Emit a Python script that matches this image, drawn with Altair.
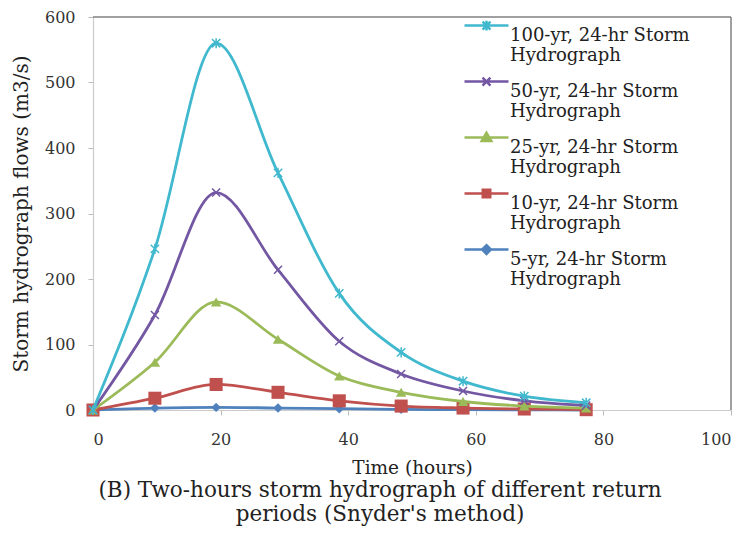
import altair as alt
import pandas as pd

# ---- data ----
time_hours = [0, 9.7, 19.3, 29.0, 38.6, 48.3, 58.0, 67.6, 77.3]
flow_100yr = [0, 246, 560, 362, 178, 88, 44, 21, 11]
flow_50yr = [0, 145, 332, 214, 105, 55, 29, 14, 7]
flow_25yr = [0, 73, 165, 108, 52, 27, 13, 6, 3]
flow_10yr = [0, 18, 39, 27, 14, 6, 3, 1.5, 0.5]
flow_5yr = [0, 3, 4, 3, 2, 1, 0.5, 0.2, 0]

series_names = [
    "100-yr, 24-hr Storm Hydrograph",
    "50-yr, 24-hr Storm Hydrograph",
    "25-yr, 24-hr Storm Hydrograph",
    "10-yr, 24-hr Storm Hydrograph",
    "5-yr, 24-hr Storm Hydrograph",
]
series_values = [flow_100yr, flow_50yr, flow_25yr, flow_10yr, flow_5yr]
series_colors = ["#40B8CE", "#7357A3", "#9BBB59", "#C0504D", "#4F81BD"]

x_ticks = [0, 20, 40, 60, 80, 100]
y_ticks = [0, 100, 200, 300, 400, 500, 600]

# ---- styling ----
star = "M-1,-1L1,1M-1,1L1,-1M0,-1.2L0,1.2"
xmark = "M-1,-1L1,1M-1,1L1,-1"
plot_markers = [
    dict(shape=star, filled=False, size=70, strokeWidth=1.5),
    dict(shape=xmark, filled=False, size=64, strokeWidth=1.5),
    dict(shape="triangle-up", filled=True, size=110),
    dict(shape="square", filled=True, size=170),
    dict(shape="diamond", filled=True, size=90),
]
# legend symbols: a short line with the marker, lifted to the first label line
legend_paths = [
    "M-1,-0.45L1,-0.45M-0.18,-0.63L0.18,-0.27M-0.18,-0.27L0.18,-0.63M0,-0.67L0,-0.23",
    "M-1,-0.45L1,-0.45M-0.18,-0.63L0.18,-0.27M-0.18,-0.27L0.18,-0.63",
    "M-1,-0.45L1,-0.45M0,-0.67L0.22,-0.29L-0.22,-0.29Z",
    "M-1,-0.45L1,-0.45M-0.17,-0.62L0.17,-0.62L0.17,-0.28L-0.17,-0.28Z",
    "M-1,-0.45L1,-0.45M0,-0.65L0.2,-0.45L0,-0.25L-0.2,-0.45Z",
]

rows = []
for name, vals in zip(series_names, series_values):
    for t, v in zip(time_hours, vals):
        rows.append({"series": name, "time": t, "flow": v})
df = pd.DataFrame(rows)

W, H = 638, 393
FONT = "DejaVu Serif"

x_enc = alt.X(
    "time:Q",
    scale=alt.Scale(domain=[0, 100], nice=False),
    axis=alt.Axis(
        values=x_ticks, title="Time (hours)", grid=False,
        titleY=57, titleBaseline="middle", titleFontSize=18.5,
    ),
)
y_enc = alt.Y(
    "flow:Q",
    scale=alt.Scale(domain=[0, 600], nice=False),
    axis=alt.Axis(
        values=y_ticks, title="Storm hydrograph flows (m3/s)", grid=False,
        titleX=-72, titleY=H / 2, titleAngle=-90, titleBaseline="middle",
        titleAlign="center", titleFontSize=20,
    ),
)

base = alt.Chart(df)
layers = []
# draw order: 5-yr first, 100-yr last (on top)
for i in reversed(range(len(series_names))):
    name = series_names[i]
    col = series_colors[i]
    sub = base.transform_filter(alt.datum.series == name)
    line = sub.mark_line(color=col, strokeWidth=2.8, interpolate="monotone").encode(
        x=x_enc, y=y_enc
    )
    mk = plot_markers[i]
    pts = sub.mark_point(color=col, opacity=1, **mk).encode(x=x_enc, y=y_enc)
    layers += [line, pts]

leg = alt.Legend(
    title=None, orient="none", legendX=370, legendY=-5,
    symbolSize=1936, symbolStrokeWidth=2.5,
    labelFont=FONT, labelFontSize=18, labelColor="#222222",
    labelLimit=400, labelOffset=0, rowPadding=3, padding=0,
    labelExpr="[replace(datum.label, ' Hydrograph', ''), 'Hydrograph']",
    labelBaseline="middle", symbolOpacity=1,
)
legend_layer = base.transform_filter("false").mark_point(filled=True).encode(
    x=x_enc, y=y_enc,
    shape=alt.Shape("series:N", scale=alt.Scale(domain=series_names, range=legend_paths), legend=leg),
    fill=alt.Fill("series:N", scale=alt.Scale(domain=series_names, range=series_colors), legend=leg),
    stroke=alt.Stroke("series:N", scale=alt.Scale(domain=series_names, range=series_colors), legend=leg),
)

frame_data = alt.Data(values=[{"a": 1}])
top_border = alt.Chart(frame_data).mark_rule(color="#808080", strokeWidth=1.5).encode(
    x=alt.value(0), x2=alt.value(W), y=alt.value(0)
)
right_border = alt.Chart(frame_data).mark_rule(color="#808080", strokeWidth=1.5).encode(
    x=alt.value(W), y=alt.value(0), y2=alt.value(H)
)

chart = alt.layer(*layers, legend_layer, top_border, right_border).properties(
    width=W, height=H,
    autosize=alt.AutoSizeParams(type="none"),
    padding={"left": 85, "top": 9, "right": 12, "bottom": 128},
    title=alt.TitleParams(
        text=["(B) Two-hours storm hydrograph of different return", "periods (Snyder's method)"],
        orient="bottom", anchor="middle", font=FONT, fontSize=21.5, fontWeight="normal",
        color="#222222", dx=-32, offset=3, lineHeight=24, baseline="top",
    ),
).configure_view(stroke=None).configure_axis(
    labelFont=FONT, labelFontSize=16, labelColor="#333333",
    titleFont=FONT, titleFontWeight="normal", titleColor="#222222",
    domainColor="#cccccc", domainWidth=1.2, tickColor="#bbbbbb", tickSize=5,
).configure_axisY(labelPadding=13).configure_axisX(labelPadding=16)

chart.save("out.html", embed_options={"renderer": "svg", "actions": False})
